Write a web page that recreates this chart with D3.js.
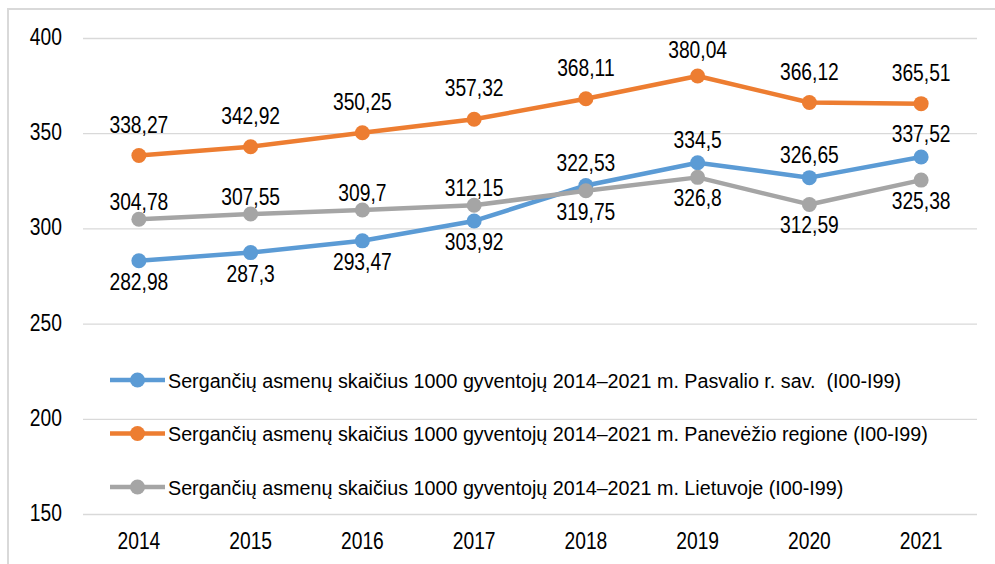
<!DOCTYPE html>
<html>
<head>
<meta charset="utf-8">
<script src="https://cdn.jsdelivr.net/npm/d3@7"></script>
<style>
  body { margin: 0; background: #fff; }
  svg text { font-family: "Liberation Sans", Arial, sans-serif; fill: #000; white-space: pre; }
</style>
</head>
<body>
<svg width="995" height="564"></svg>
<script>
var years = ["2014", "2015", "2016", "2017", "2018", "2019", "2020", "2021"];
var pasvalys = [282.98, 287.3, 293.47, 303.92, 322.53, 334.5, 326.65, 337.52];
var panevezys = [338.27, 342.92, 350.25, 357.32, 368.11, 380.04, 366.12, 365.51];
var lietuva = [304.78, 307.55, 309.7, 312.15, 319.75, 326.8, 312.59, 325.38];
var yTicks = [150, 200, 250, 300, 350, 400];
var seriesNames = [
  "Sergančių asmenų skaičius 1000 gyventojų 2014–2021 m. Pasvalio r. sav.  (I00-I99)",
  "Sergančių asmenų skaičius 1000 gyventojų 2014–2021 m. Panevėžio regione (I00-I99)",
  "Sergančių asmenų skaičius 1000 gyventojų 2014–2021 m. Lietuvoje (I00-I99)"
];
// where the value labels sit for each series
var pasvalysPos = ["below", "below", "below", "below", "above", "above", "above", "above"];
var panevezysPos = ["above", "above", "above", "above", "above", "above", "above", "above"];
var lietuvaPos = ["above", "above", "above", "above", "below", "below", "below", "below"];

var series = [
  { name: seriesNames[0], values: pasvalys, pos: pasvalysPos, color: "#5B9BD5", up: -15 },
  { name: seriesNames[1], values: panevezys, pos: panevezysPos, color: "#ED7D31", up: -23 },
  { name: seriesNames[2], values: lietuva, pos: lietuvaPos, color: "#A5A5A5", up: -9 }
];

var svg = d3.select("svg");

// narrow looking text: plain font squeezed sideways
function label(parent, tx, ty, str, size, sx, anchor) {
  return parent.append("text")
    .attr("transform", "translate(" + tx + "," + ty + ") scale(" + sx + ",1)")
    .attr("text-anchor", anchor)
    .style("font-size", size + "px")
    .text(str);
}

// outer frame
svg.append("path")
  .attr("d", "M8,564V9H995")
  .attr("fill", "none")
  .attr("stroke", "#D9D9D9")
  .attr("stroke-width", 2);

var x = d3.scaleBand().domain(years).range([83, 977]);
var y = d3.scaleLinear().domain([150, 400]).range([514, 38]);

// gridlines
var grid = svg.append("g")
  .attr("transform", "translate(83,0)")
  .call(d3.axisLeft(y).tickValues(yTicks).tickSize(-894).tickFormat(""));
grid.select(".domain").remove();
grid.selectAll("line").attr("stroke", "#D9D9D9").attr("stroke-width", 1.3);

var axisText = svg.append("g");
yTicks.forEach(function(t) {
  label(axisText, 62, y(t) + 7, String(t), 23.5, 0.82, "end");
});

var cx = function(i) { return x(years[i]) + x.bandwidth() / 2; };
years.forEach(function(yr, i) {
  label(axisText, cx(i), 549, yr, 23.5, 0.82, "middle");
});

var line = d3.line()
  .x(function(d, i) { return cx(i); })
  .y(function(d) { return y(d); });

var fmt = function(v) { return String(v).replace(".", ","); };

series.forEach(function(s) {
  svg.append("path")
    .datum(s.values)
    .attr("d", line)
    .attr("fill", "none")
    .attr("stroke", s.color)
    .attr("stroke-width", 4.5)
    .attr("stroke-linejoin", "round");

  svg.append("g").selectAll("circle")
    .data(s.values)
    .enter().append("circle")
    .attr("cx", function(d, i) { return cx(i); })
    .attr("cy", function(d) { return y(d); })
    .attr("r", 7.5)
    .attr("fill", s.color);
});

series.forEach(function(s) {
  var g = svg.append("g");
  s.values.forEach(function(v, i) {
    var ly = s.pos[i] == "below" ? y(v) + 29 : Math.max(y(v) + s.up, 58);
    label(g, cx(i), ly, fmt(v), 23.5, 0.82, "middle");
  });
});

// legend
var leg = svg.append("g").selectAll("g")
  .data(series)
  .enter().append("g")
  .attr("transform", function(d, i) { return "translate(0," + (380 + i * 53.5) + ")"; });
leg.append("line")
  .attr("x1", 110).attr("x2", 165)
  .attr("stroke", function(d) { return d.color; })
  .attr("stroke-width", 4.5);
leg.append("circle")
  .attr("cx", 137.5).attr("r", 7.5)
  .attr("fill", function(d) { return d.color; });
leg.each(function(d) {
  label(d3.select(this), 168, 7.5, d.name, 21, 0.94, "start");
});
</script>
</body>
</html>
